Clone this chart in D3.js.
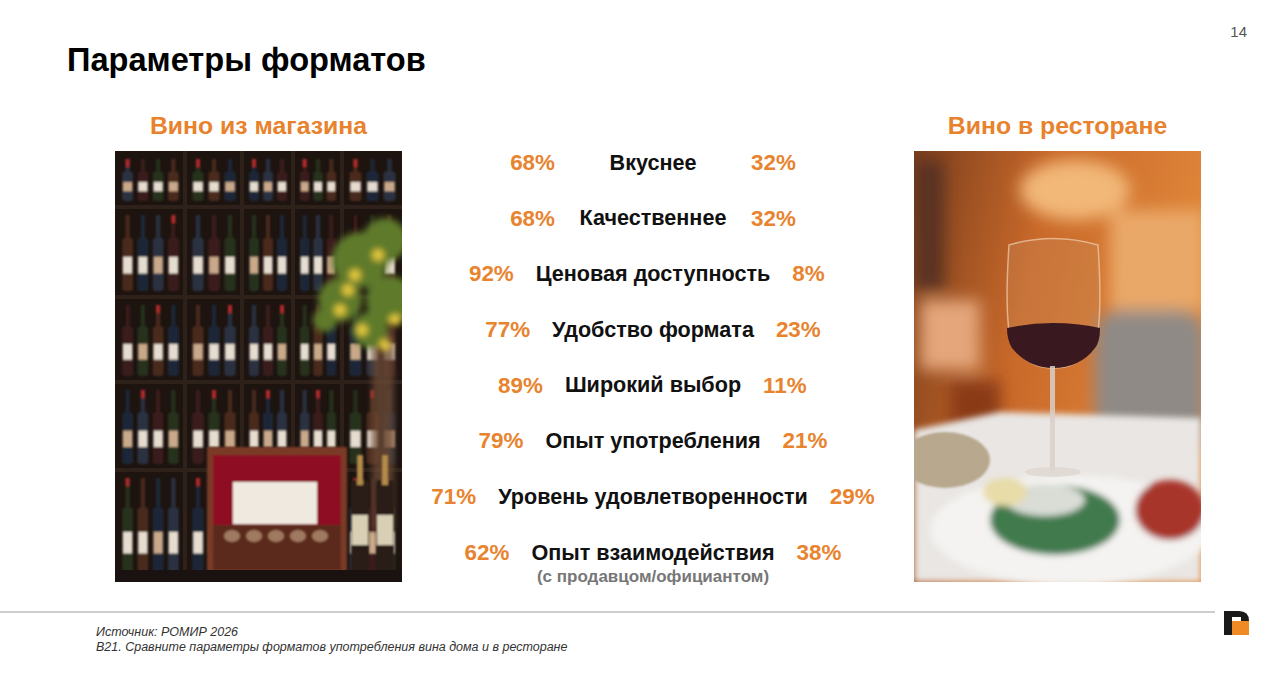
<!DOCTYPE html>
<html>
<head>
<meta charset="utf-8">
<script src="https://cdn.jsdelivr.net/npm/d3@7"></script>
<style>
  body { margin: 0; background: #fff; }
  svg { display: block; font-family: "Liberation Sans", Arial, sans-serif; }
  .title { font-size: 32.6px; font-weight: bold; fill: #000; }
  .side-title { font-size: 24.8px; font-weight: bold; fill: #e8822c; }
  .param { font-size: 21.6px; font-weight: bold; fill: #111; }
  .pct { font-size: 22.4px; font-weight: bold; fill: #e8832e; }
  .note { font-size: 17px; font-weight: bold; fill: #777; }
  .footer { font-size: 12.5px; font-style: italic; fill: #333; }
</style>
</head>
<body>
<svg width="1280" height="691"></svg>
<script>
const svg = d3.select('svg');
const width = +svg.attr('width');
const height = +svg.attr('height');

// data
const params = ['Вкуснее', 'Качественнее', 'Ценовая доступность', 'Удобство формата',
  'Широкий выбор', 'Опыт употребления', 'Уровень удовлетворенности', 'Опыт взаимодействия'];
const storeShare = [68, 68, 92, 77, 89, 79, 71, 62];
const restShare = [32, 32, 8, 23, 11, 21, 29, 38];
const notes = ['', '', '', '', '', '', '', '(с продавцом/официантом)'];
const sideTitles = ['Вино из магазина', 'Вино в ресторане'];
const title = 'Параметры форматов';
const pageNum = '14';
const footerLines = ['Источник: РОМИР 2026',
  'B21. Сравните параметры форматов употребления вина дома и в ресторане'];

const rows = params.map((p, i) => ({ param: p, store: storeShare[i], rest: restShare[i], note: notes[i] }));

const centerX = 653;
const yScale = d3.scalePoint()
  .domain(d3.range(rows.length))
  .range([162, 552]);

// title, page number
svg.append('text').attr('class', 'title')
  .attr('x', 67).attr('y', 71).text(title);

svg.append('text')
  .attr('x', 1247).attr('y', 37)
  .attr('text-anchor', 'end')
  .attr('font-size', 15).attr('fill', '#555')
  .text(pageNum);

// photo placeholders
const defs = svg.append('defs');
const blur = (id, s) => defs.append('filter').attr('id', id)
  .attr('x', '-20%').attr('y', '-20%').attr('width', '140%').attr('height', '140%')
  .append('feGaussianBlur').attr('stdDeviation', s);
blur('b1', 1.2);
blur('b3', 3);
blur('b8', 8);

const photo = [
  { x: 115, y: 151, w: 287, h: 431 },
  { x: 914, y: 151, w: 287, h: 431 }
];

svg.selectAll('.side-title').data(sideTitles)
  .enter().append('text')
    .attr('class', 'side-title')
    .attr('x', (d, i) => photo[i].x + photo[i].w / 2)
    .attr('y', 134)
    .attr('text-anchor', 'middle')
    .text(d => d);

photo.forEach((p, i) => {
  defs.append('clipPath').attr('id', 'clip' + i)
    .append('rect').attr('x', p.x).attr('y', p.y).attr('width', p.w).attr('height', p.h);
});

// left photo: wine shelves
const shop = svg.append('g').attr('clip-path', 'url(#clip0)');
const L = photo[0];
shop.append('rect').attr('x', L.x).attr('y', L.y).attr('width', L.w).attr('height', L.h).attr('fill', '#1d1410');

const shelfY = [151, 207, 297, 382, 470, 582];
const shelfX = [115, 185, 242, 293, 342, 402];
const bottleColors = ['#2a3142', '#3b1c1c', '#26301f', '#4a2a1a', '#1f2838'];
const g0 = shop.append('g').attr('filter', 'url(#b1)');
for (let r = 0; r < shelfY.length - 1; r++) {
  for (let c = 0; c < shelfX.length - 1; c++) {
    const x0 = shelfX[c] + 5, x1 = shelfX[c + 1] - 4;
    const top = shelfY[r] + 8, bot = shelfY[r + 1] - 6;
    const n = Math.max(2, Math.floor((x1 - x0) / 13));
    const bw = (x1 - x0) / n;
    for (let k = 0; k < n; k++) {
      const bx = x0 + k * bw + bw / 2;
      const col = bottleColors[(r * 3 + c * 2 + k) % bottleColors.length];
      const bh = bot - top;
      g0.append('rect').attr('x', bx - 2).attr('y', top).attr('width', 4).attr('height', bh * 0.35).attr('fill', col);
      g0.append('rect').attr('x', bx - bw * 0.35).attr('y', top + bh * 0.3).attr('width', bw * 0.7).attr('height', bh * 0.7)
        .attr('rx', 3).attr('fill', col);
      g0.append('rect').attr('x', bx - bw * 0.3).attr('y', top + bh * 0.55).attr('width', bw * 0.6).attr('height', bh * 0.22)
        .attr('fill', (r + c + k) % 3 === 0 ? '#c9a98a' : '#e6ddd0');
      if ((r + k) % 4 === 0) g0.append('rect').attr('x', bx - 2).attr('y', top).attr('width', 4).attr('height', 8).attr('fill', '#b22a2a');
    }
  }
}
shelfY.slice(1, -1).forEach(y => shop.append('rect').attr('x', L.x).attr('y', y - 2).attr('width', L.w).attr('height', 4).attr('fill', '#2d211a'));
shelfX.slice(1, -1).forEach(x => shop.append('rect').attr('x', x - 2).attr('y', L.y).attr('width', 4).attr('height', L.h).attr('fill', '#2d211a'));

// vase and lemon branch
shop.append('rect').attr('x', 372).attr('y', 330).attr('width', 22).attr('height', 200).attr('fill', '#6b4a35').attr('opacity', 0.8).attr('filter', 'url(#b3)');
const leaves = shop.append('g').attr('filter', 'url(#b3)');
[[360, 260, 28], [385, 240, 22], [340, 300, 22], [390, 300, 24], [370, 330, 18], [325, 320, 12]].forEach(([x, y, r]) =>
  leaves.append('circle').attr('cx', x).attr('cy', y).attr('r', r).attr('fill', '#5e7a2a'));
[[355, 275], [378, 255], [340, 310], [395, 320], [362, 330], [385, 345], [348, 290]].forEach(([x, y]) =>
  leaves.append('circle').attr('cx', x).attr('cy', y).attr('r', 6).attr('fill', '#e2c73c'));

// red box
const box = shop.append('g').attr('filter', 'url(#b1)');
box.append('rect').attr('x', 207).attr('y', 447).attr('width', 140).attr('height', 130).attr('fill', '#7a3b26');
box.append('rect').attr('x', 213).attr('y', 455).attr('width', 128).attr('height', 70).attr('fill', '#8e1020');
box.append('rect').attr('x', 233).attr('y', 482).attr('width', 84).attr('height', 42).attr('fill', '#efe9e0');
box.append('rect').attr('x', 213).attr('y', 525).attr('width', 128).attr('height', 45).attr('fill', '#5c2a1a');
d3.range(5).forEach(k => box.append('ellipse').attr('cx', 232 + k * 22).attr('cy', 536).attr('rx', 8).attr('ry', 6).attr('fill', '#a07a60'));
// front bottles right
[[360, 455], [385, 455]].forEach(([x, y]) => {
  box.append('rect').attr('x', x - 9).attr('y', y + 25).attr('width', 18).attr('height', 100).attr('rx', 4).attr('fill', '#2a1d18');
  box.append('rect').attr('x', x - 3).attr('y', y).attr('width', 6).attr('height', 30).attr('fill', '#b48a4a');
  box.append('rect').attr('x', x - 8).attr('y', y + 60).attr('width', 16).attr('height', 30).attr('fill', '#d8cfb5');
});
shop.append('rect').attr('x', L.x).attr('y', 570).attr('width', L.w).attr('height', 12).attr('fill', '#1a1210');

// right photo: restaurant table
const rest = svg.append('g').attr('clip-path', 'url(#clip1)');
const R = photo[1];
const bg = defs.append('linearGradient').attr('id', 'warm').attr('x1', 0).attr('y1', 0).attr('x2', 1).attr('y2', 0.3);
bg.append('stop').attr('offset', '0%').attr('stop-color', '#7a3e1c');
bg.append('stop').attr('offset', '45%').attr('stop-color', '#c9692a');
bg.append('stop').attr('offset', '100%').attr('stop-color', '#e0873a');
rest.append('rect').attr('x', R.x).attr('y', R.y).attr('width', R.w).attr('height', R.h).attr('fill', 'url(#warm)');
const blurG = rest.append('g').attr('filter', 'url(#b8)');
blurG.append('ellipse').attr('cx', 1075).attr('cy', 190).attr('rx', 55).attr('ry', 30).attr('fill', '#f2b878');
blurG.append('rect').attr('x', 1110).attr('y', 210).attr('width', 95).attr('height', 100).attr('fill', '#eaa868');
blurG.append('rect').attr('x', 920).attr('y', 300).attr('width', 60).attr('height', 70).attr('fill', '#e4a67a');
blurG.append('rect').attr('x', 914).attr('y', 160).attr('width', 30).attr('height', 130).attr('fill', '#5a3220');
blurG.append('rect').attr('x', 950).attr('y', 380).attr('width', 50).attr('height', 60).attr('fill', '#8a3a18');
// chair
blurG.append('rect').attr('x', 1095).attr('y', 310).attr('width', 110).attr('height', 140).attr('rx', 25).attr('fill', '#8f8a86');
// table
rest.append('path').attr('d', 'M914,430 L1000,412 L1201,418 L1201,582 L914,582 Z').attr('fill', '#e9e6e3').attr('filter', 'url(#b3)');
// straw placemat
rest.append('ellipse').attr('cx', 945).attr('cy', 460).attr('rx', 45).attr('ry', 28).attr('fill', '#b7a88e').attr('filter', 'url(#b1)');
// plate and salad
const food = rest.append('g').attr('filter', 'url(#b3)');
food.append('ellipse').attr('cx', 1070).attr('cy', 530).attr('rx', 140).attr('ry', 55).attr('fill', '#f4f3f1');
food.append('ellipse').attr('cx', 1055).attr('cy', 520).attr('rx', 65).attr('ry', 35).attr('fill', '#3f7a4e');
food.append('ellipse').attr('cx', 1045).attr('cy', 500).attr('rx', 40).attr('ry', 16).attr('fill', '#d9ddd6');
food.append('ellipse').attr('cx', 1170).attr('cy', 510).attr('rx', 35).attr('ry', 30).attr('fill', '#a8362a');
food.append('ellipse').attr('cx', 1005).attr('cy', 492).attr('rx', 22).attr('ry', 14).attr('fill', '#e8dca8');
// wine glass
const glass = rest.append('g');
glass.append('path')
  .attr('d', 'M1009,245 Q1004,320 1012,345 Q1028,368 1053,368 Q1080,368 1095,345 Q1103,320 1098,245 Q1053,232 1009,245 Z')
  .attr('fill', '#c98a5a').attr('fill-opacity', 0.35).attr('stroke', '#f0d0b0').attr('stroke-width', 1.5).attr('stroke-opacity', 0.7);
glass.append('path')
  .attr('d', 'M1007,328 Q1053,318 1100,328 Q1100,342 1095,348 Q1080,368 1053,368 Q1028,368 1012,348 Q1007,340 1007,328 Z')
  .attr('fill', '#3a1820');
glass.append('rect').attr('x', 1050).attr('y', 366).attr('width', 5).attr('height', 105).attr('fill', '#d8cfc8').attr('opacity', 0.85);
glass.append('ellipse').attr('cx', 1053).attr('cy', 472).attr('rx', 28).attr('ry', 5).attr('fill', '#ddd6d0').attr('opacity', 0.8);

// rows of parameters
const rowG = svg.selectAll('.row').data(rows)
  .enter().append('g')
    .attr('class', 'row')
    .attr('transform', (d, i) => `translate(${centerX},${yScale(i)})`);

rowG.append('text')
  .attr('class', 'param')
  .attr('text-anchor', 'middle')
  .attr('dy', '0.35em')
  .text(d => d.param);

rowG.each(function(d) {
  const g = d3.select(this);
  const half = g.select('.param').node().getComputedTextLength() / 2;
  const off = Math.max(98, half + 22);
  g.append('text')
    .attr('class', 'pct')
    .attr('x', -off)
    .attr('text-anchor', 'end')
    .attr('dy', '0.35em')
    .text(d.store + '%');
  g.append('text')
    .attr('class', 'pct')
    .attr('x', off)
    .attr('dy', '0.35em')
    .text(d.rest + '%');
  if (d.note) {
    g.append('text')
      .attr('class', 'note')
      .attr('text-anchor', 'middle')
      .attr('y', 24)
      .attr('dy', '0.35em')
      .text(d.note);
  }
});

// footer
svg.append('line')
  .attr('x1', 0).attr('x2', 1215)
  .attr('y1', 612).attr('y2', 612)
  .attr('stroke', '#bdbdbd').attr('stroke-width', 1.5);

svg.selectAll('.footer').data(footerLines)
  .enter().append('text')
    .attr('class', 'footer')
    .attr('x', 96)
    .attr('y', (d, i) => 636 + i * 15)
    .text(d => d);

// logo
const logo = svg.append('g').attr('transform', 'translate(1224,611)');
logo.append('path')
  .attr('d', 'M0,0 H15 Q25,0 25,10 Q25,16 20,18 H8 V24 H0 Z')
  .attr('fill', '#1a1a1a');
logo.append('path')
  .attr('d', 'M8,10 H25 V24 H8 Z')
  .attr('fill', '#f08a24');
logo.append('rect').attr('x', 8).attr('y', 6).attr('width', 9).attr('height', 4).attr('fill', '#fff');
</script>
</body>
</html>
